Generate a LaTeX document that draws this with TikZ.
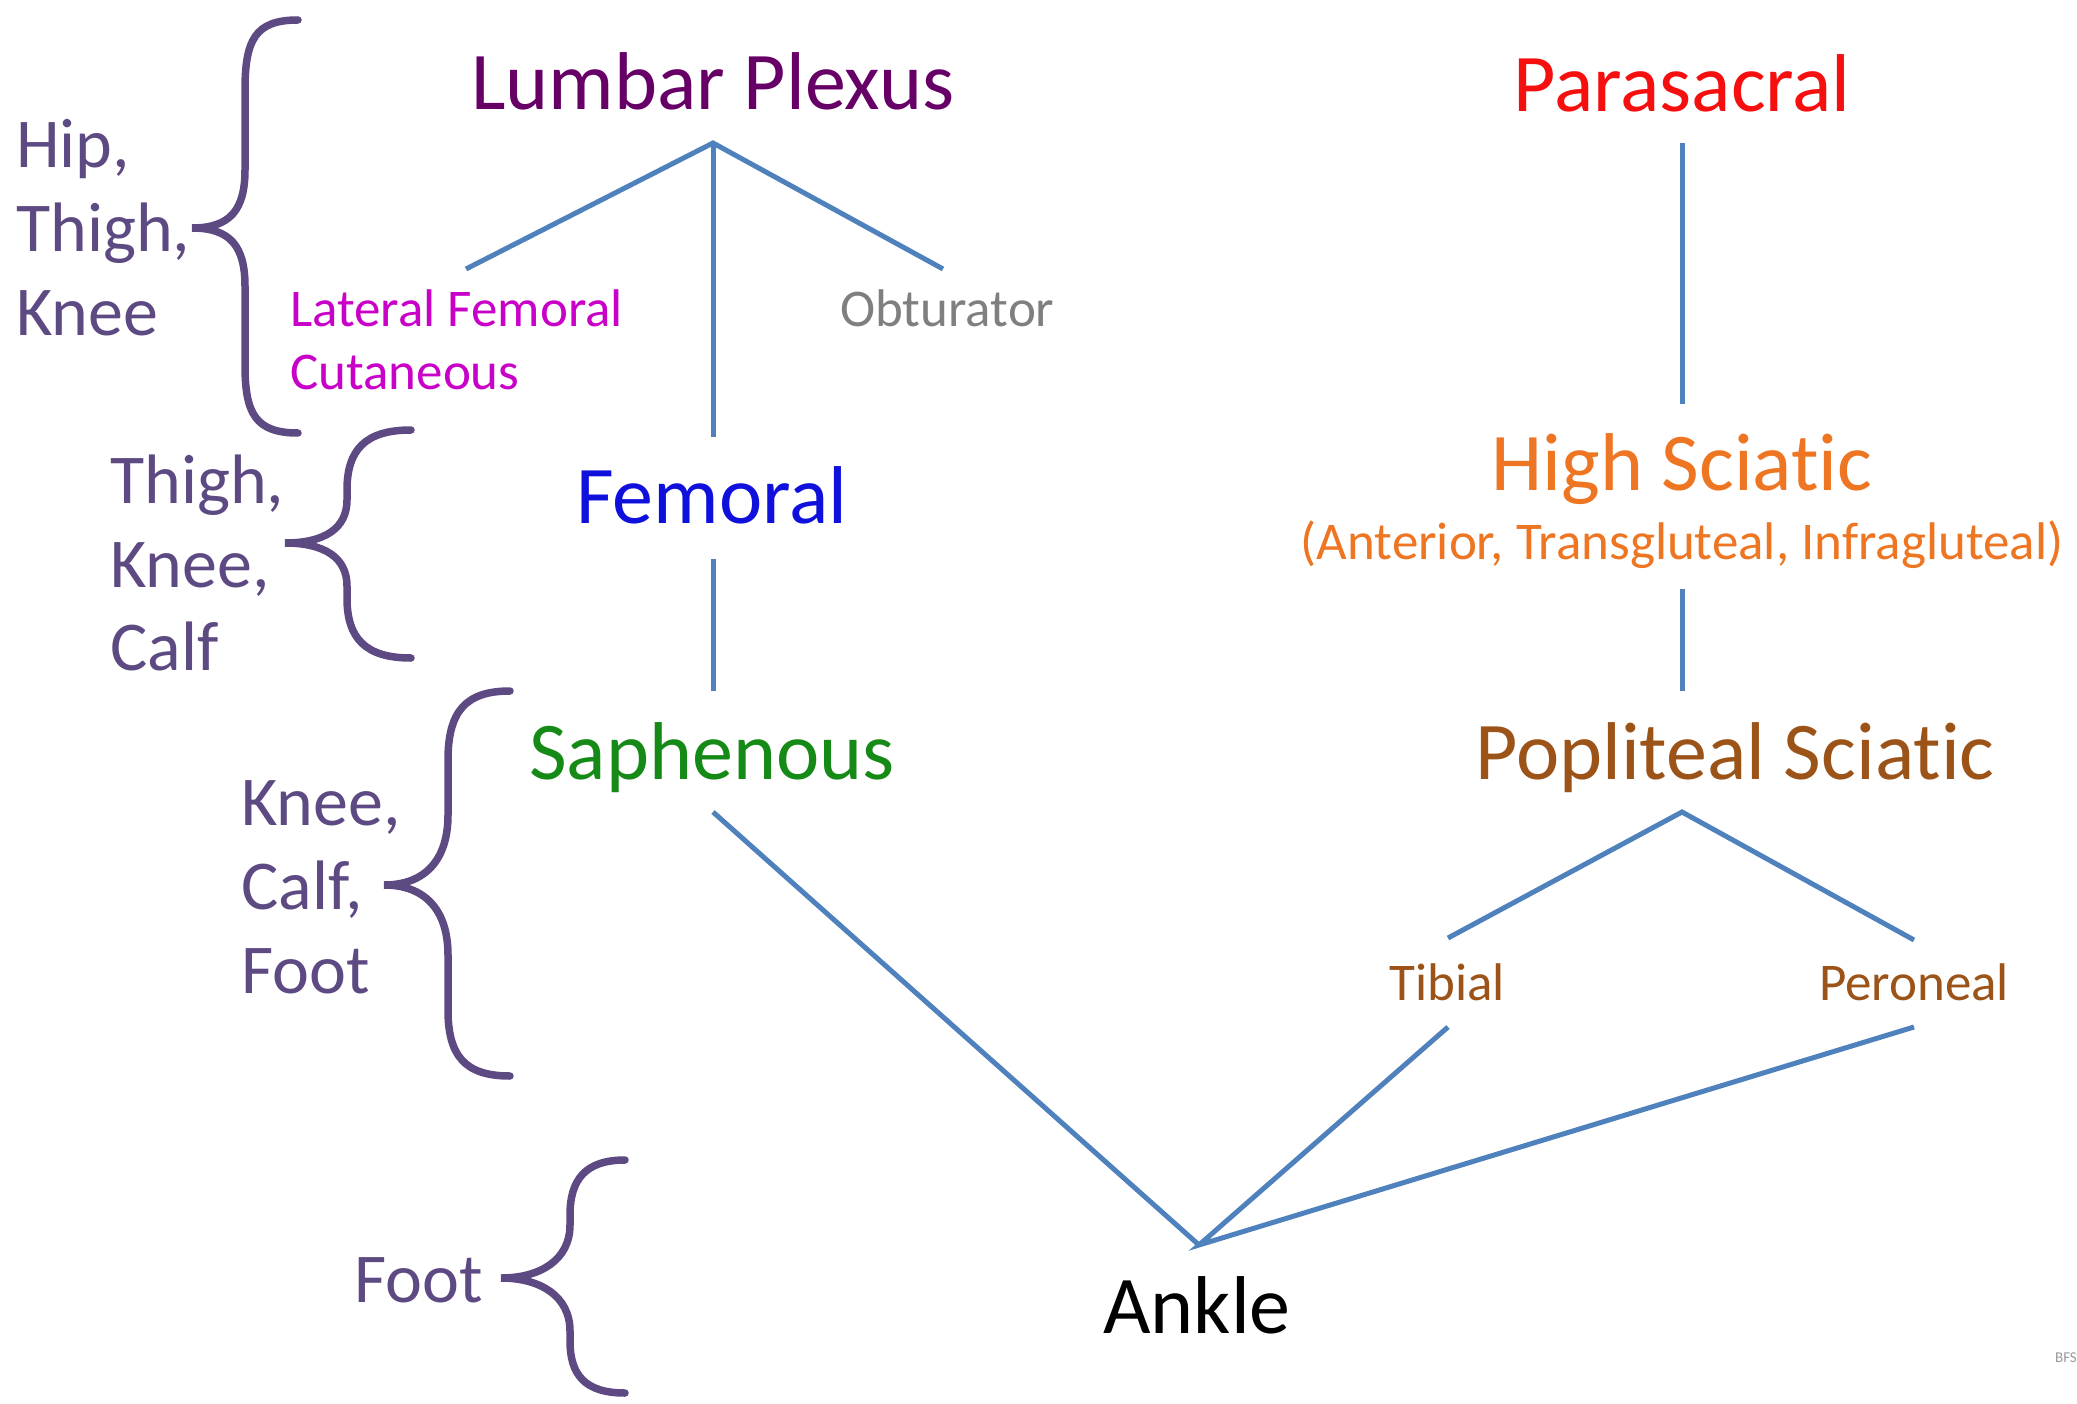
\documentclass[tikz,border=0pt]{standalone}
\usepackage{fontspec}
\setmainfont[Ligatures={CommonOff,ContextualOff}]{Carlito}
\newcommand{\nolig}{\kern0pt\relax}
\definecolor{cLumbar}{HTML}{660066}
\definecolor{cPara}{HTML}{F50F0F}
\definecolor{cLat}{HTML}{C800C8}
\definecolor{cObt}{HTML}{7F7F7F}
\definecolor{cFem}{HTML}{1010DD}
\definecolor{cSaph}{HTML}{168A16}
\definecolor{cHigh}{HTML}{EE7522}
\definecolor{cPop}{HTML}{9C5318}
\definecolor{cSide}{HTML}{5E4A82}
\definecolor{cLine}{HTML}{4F81BD}
\tikzset{
  big/.style={inner sep=0pt, anchor=base, font=\fontsize{82}{98}\selectfont},
  mid/.style={inner sep=0pt, font=\fontsize{53}{63}\selectfont},
  side/.style={inner sep=0pt, anchor=base west, text=cSide, font=\fontsize{70}{84}\selectfont},
  conn/.style={draw=cLine, line width=5pt},
  bracestyle/.style={draw=cSide, line width=7.5pt, line cap=round}
}
\begin{document}
\begin{tikzpicture}[x=1pt,y=-1pt]
\useasboundingbox (0,0) rectangle (2077,1404);
% main titles
\node[big, text=cLumbar] (lumbar) at (713,110) {Lumbar Plexus};
\node[big, text=cPara] (para) at (1682,112) {Parasacral};
\node[mid, anchor=base west, text=cLat] (lat1) at (290,327) {Lateral Femoral};
\node[mid, anchor=base west, text=cLat] (lat2) at (290,389) {Cutaneous};
\node[mid, anchor=base west, text=cObt] (obt) at (840,327) {Obturator};
\node[big, text=cFem] (fem) at (712,523) {Femoral};
\node[big, text=cHigh] (high) at (1682,490) {High Sciat\nolig ic};
\node[mid, anchor=base, text=cHigh] (highsub) at (1682,559) {(Anterior, Transgluteal, Infragluteal)};
\node[big, text=cSaph] (saph) at (712,779) {Saphenous};
\node[big, text=cPop] (pop) at (1735,779) {Popliteal Sciat\nolig ic};
\node[mid, anchor=base, text=cPop] (tib) at (1447,1000) {Tibial};
\node[mid, anchor=base, text=cPop] (per) at (1914,1000) {Peroneal};
\node[big, text=black] (ankle) at (1197,1333) {Ankle};
\node[inner sep=0pt, anchor=base east, text=black!40, font=\fontsize{15}{18}\selectfont] (bfs) at (2077,1362) {BFS};
% side labels
\node[side] (a1) at (16,168) {Hip,};
\node[side] (a2) at (16,252) {Thigh,};
\node[side] (a3) at (16,336) {Knee};
\node[side] (b1) at (110,503) {Thigh,};
\node[side] (b2) at (110,587) {Knee,};
\node[side] (b3) at (110,670) {Calf};
\node[side] (c1) at (241,825) {Knee,};
\node[side] (c2) at (241,909) {Calf,};
\node[side] (c3) at (241,993) {Foot};
\node[side] (d1) at (354,1302) {Foot};
% connector coordinates
\coordinate (lA) at (713,143);
\coordinate (lL) at (466,269);
\coordinate (lD) at (713,437);
\coordinate (lR) at (943,269);
\coordinate (fB) at (713,559);
\coordinate (sT) at (713,691);
\coordinate (pA) at (1682,143);
\coordinate (pB) at (1682,404);
\coordinate (hB) at (1682,589);
\coordinate (hT) at (1682,691);
\coordinate (popA) at (1682,812);
\coordinate (popL) at (1448,938);
\coordinate (popR) at (1914,940);
\coordinate (saphB) at (713,812);
\coordinate (ank) at (1199,1245);
\coordinate (tibB) at (1448,1027);
\coordinate (perB) at (1914,1027);
\draw[conn] (lL) -- (lA) -- (lR);
\draw[conn] (lA) -- (lD);
\draw[conn] (fB) -- (sT);
\draw[conn] (pA) -- (pB);
\draw[conn] (hB) -- (hT);
\draw[conn] (popL) -- (popA) -- (popR);
\draw[conn] (saphB) -- (ank);
\draw[conn] (tibB) -- (ank) -- (perB);
% braces
\draw[bracestyle] (298,20) .. controls (255,20) and (245,40) .. (245,90) -- (245,170)
  .. controls (245,210) and (230,228) .. (192,228)
  .. controls (230,228) and (245,246) .. (245,286) -- (245,365)
  .. controls (245,413) and (255,433) .. (298,433);
\draw[bracestyle] (411,430) .. controls (365,430) and (347,450) .. (347,490) -- (347,500)
  .. controls (347,528) and (325,543) .. (285,543)
  .. controls (325,543) and (347,558) .. (347,586) -- (347,598)
  .. controls (347,638) and (365,658) .. (411,658);
\draw[bracestyle] (510,691) .. controls (465,691) and (448,712) .. (448,760) -- (448,815)
  .. controls (448,860) and (425,885) .. (384,885)
  .. controls (425,885) and (448,910) .. (448,955) -- (448,1010)
  .. controls (448,1056) and (465,1076) .. (510,1076);
\draw[bracestyle] (625,1160) .. controls (585,1160) and (570,1180) .. (570,1215) -- (570,1225)
  .. controls (570,1260) and (540,1278) .. (501,1278)
  .. controls (540,1278) and (570,1296) .. (570,1331) -- (570,1341)
  .. controls (570,1375) and (585,1393) .. (625,1393);
\end{tikzpicture}
\end{document}
